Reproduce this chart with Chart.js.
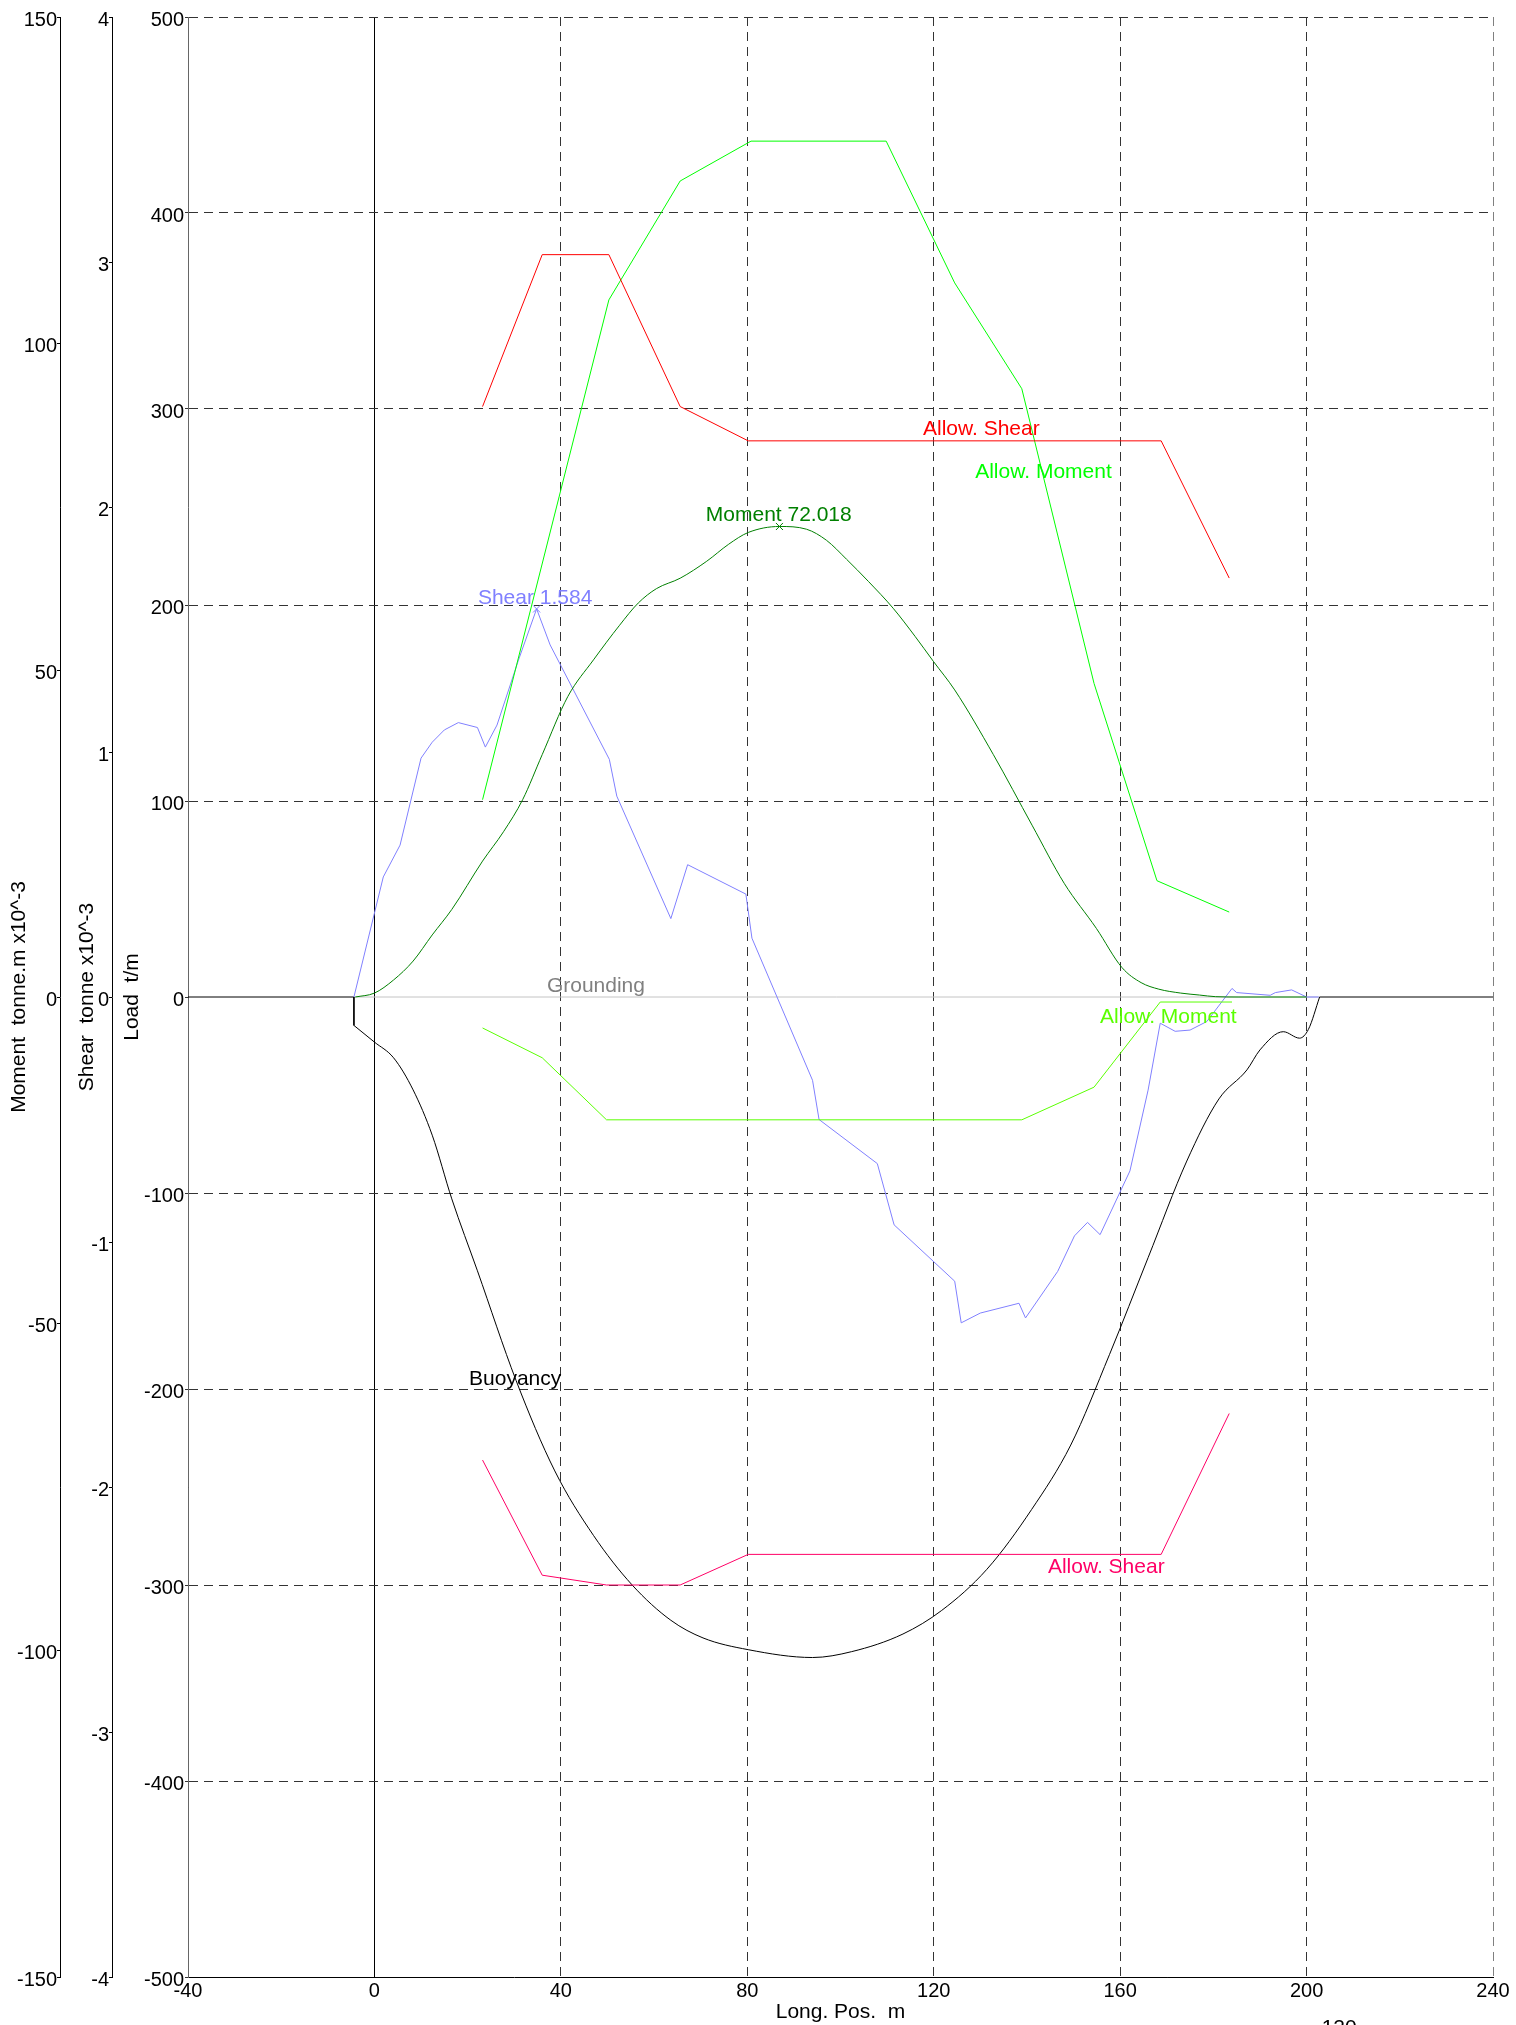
<!DOCTYPE html>
<html><head><meta charset="utf-8">
<script src="https://cdn.jsdelivr.net/npm/chart.js@4.4.1/dist/chart.umd.min.js"></script>
<style>html,body{margin:0;padding:0;background:#fff;}canvas{display:block;}</style>
</head><body>
<canvas id="c" width="1516" height="2025" style="width:1516px;height:2025px"></canvas>
<script>
// ---------- data ----------
// Long. position (m)
const xTickValues = [-40, 0, 40, 80, 120, 160, 200, 240];

// Shear (tonne x10^-3)
const shearPos = [-4.4, 1.9, 5.5, 10, 12.4, 15, 18, 22.1, 23.8, 26.3, 30.9, 34.8, 37.7, 50.4, 52, 63.6, 67.2, 79.7, 81, 94, 95.4, 107.9, 111.5, 124.5, 125.9, 130, 138.3, 139.7, 146.6, 150.2, 153, 155.7, 162.1, 166, 168.6, 171.8, 175, 178.6, 184, 185, 192.2, 193.3, 196.8, 200, 202.6];
const shearVal = [0, 0.49, 0.62, 0.975, 1.04, 1.09, 1.12, 1.10, 1.02, 1.11, 1.375, 1.584, 1.437, 0.97, 0.82, 0.32, 0.54, 0.42, 0.24, -0.34, -0.50, -0.68, -0.93, -1.16, -1.33, -1.29, -1.25, -1.31, -1.12, -0.975, -0.92, -0.97, -0.71, -0.38, -0.107, -0.14, -0.135, -0.10, 0.035, 0.018, 0.007, 0.018, 0.029, 0, 0];

// Moment (tonne.m x10^-3)
const momentPos = [-4.1, 0, 4.1, 8.3, 12.4, 16.6, 23.2, 27.7, 31.8, 36, 41.5, 47, 52.6, 56.6, 60.5, 65.6, 71.3, 76, 80.2, 86.9, 92.7, 97, 101.3, 106, 111.3, 116, 119.9, 124.5, 132.8, 141.1, 148, 154.9, 160.4, 164.5, 168.3, 173, 177, 180.5, 185.3, 200];
const momentVal = [0, 0.6, 2.6, 5.5, 9.5, 13.4, 20.8, 25.3, 30.2, 37.1, 46, 51.6, 56.9, 60.3, 62.5, 64.1, 66.7, 69.3, 71.1, 72.018, 71.6, 69.9, 67.0, 63.6, 59.5, 55.2, 51.4, 47, 37.1, 26.3, 17.4, 10.5, 4.5, 2.2, 1.2, 0.6, 0.3, 0.05, 0, 0];

// Buoyancy / load (t/m)
const loadPos = [-4.4, 0, 4.1, 8.3, 12.4, 16.6, 22.1, 30.4, 38.7, 47, 55.3, 63.6, 70.5, 80.2, 94, 102.4, 113.4, 121.7, 131.4, 141, 149.4, 157.7, 166, 174.3, 181.2, 187.2, 190, 195, 198.5, 200.4, 202.8];
const loadVal = [-14.5, -23, -31, -47.4, -70.5, -103, -139.7, -195.7, -241.8, -274.7, -300, -318, -327, -333, -337, -334, -325, -313, -292, -261.5, -228.6, -182.5, -133, -83.7, -52, -37.2, -27, -17.7, -21, -16.5, 0];
const loadTailLeftPos = [-40, -4.4, -4.4];
const loadTailLeftVal = [0, 0, -14.5];
const loadTailRightPos = [202.8, 240];
const loadTailRightVal = [0, 0];

// Grounding (t/m)
const groundPos = [-4.4, 202.8];
const groundVal = [0, 0];

// Allowable shear (tonne x10^-3)
const allowShearPos = [23.2, 36, 50.3, 65.6, 80.2, 168.8, 183.4];
const allowShearUpper = [2.41, 3.03, 3.03, 2.41, 2.27, 2.27, 1.71];
const allowShearLowerPos = [23.2, 36, 49.8, 65.6, 80.2, 168.8, 183.4];
const allowShearLower = [-1.89, -2.36, -2.40, -2.40, -2.275, -2.275, -1.70];

// Allowable moment (tonne.m x10^-3)
const allowMomentPos = [23.2, 50.3, 65.6, 80.8, 109.8, 124.5, 138.9, 154.4, 167.9, 183.4];
const allowMomentUpper = [30.2, 106.7, 124.9, 131, 131, 109.3, 93.1, 48, 17.8, 13];
const allowMomentLowerPos = [23.2, 36, 49.8, 138.9, 154.4, 168.6, 184];
const allowMomentLower = [-4.74, -9.3, -18.8, -18.8, -13.8, -0.77, -0.77];

// Peak markers
const shearPeak = {x: 34.8, y: 1.584};
const momentPeak = {x: 86.9, y: 72.018};

// Annotation texts
const labelTexts = ['Allow. Shear', 'Allow. Moment', 'Moment 72.018', 'Shear 1.584', 'Grounding', 'Allow. Moment', 'Buoyancy', 'Allow. Shear'];
const labelColors = ['#ff0000', '#00ff00', '#008000', '#8080ff', '#808080', '#5aff00', '#000000', '#ff0066'];
// anchor (Long. pos, load t/m) of each label's left baseline
const labelAtX = [117.7, 128.9, 71.1, 22.2, 37, 155.7, 20.3, 144.5];
const labelAtY = [286.7, 264.8, 242.9, 200.5, 2.7, -13.1, -198, -294];

// ---------- chart ----------
const FONT = '"Liberation Sans", Arial, Helvetica, sans-serif';
const pts = (xs, ys) => xs.map((x, i) => ({x, y: ys[i]}));

const labelPlugin = {
  id: 'labels',
  afterDatasetsDraw(chart) {
    const c = chart.ctx, xs = chart.scales.x, ys = chart.scales.yLoad;
    c.save();
    c.font = '21px ' + FONT;
    c.textAlign = 'left';
    c.textBaseline = 'alphabetic';
    labelTexts.forEach((t, i) => {
      c.fillStyle = labelColors[i];
      c.fillText(t, xs.getPixelForValue(labelAtX[i]), ys.getPixelForValue(labelAtY[i]));
    });
    // stray tick label partly outside the picture
    c.fillStyle = '#000';
    c.textAlign = 'center';
    c.textBaseline = 'top';
    c.fillText('120', xs.getPixelForValue(207), chart.height - 7);
    c.restore();
  }
};

const line = (label, xs, ys, color, axis, smooth) => ({
  label, data: pts(xs, ys), yAxisID: axis, borderColor: color, backgroundColor: color,
  borderWidth: 1, pointRadius: 0, tension: 0, fill: false, showLine: true,
  cubicInterpolationMode: smooth ? 'monotone' : 'default'
});

new Chart(document.getElementById('c').getContext('2d'), {
  type: 'line',
  data: {
    datasets: [
      line('Allow. Shear', allowShearPos, allowShearUpper, '#ff0000', 'yShear'),
      line('Allow. Shear -', allowShearLowerPos, allowShearLower, '#ff0066', 'yShear'),
      line('Allow. Moment', allowMomentPos, allowMomentUpper, '#00ff00', 'yMoment'),
      line('Allow. Moment -', allowMomentLowerPos, allowMomentLower, '#5aff00', 'yMoment'),
      line('Moment', momentPos, momentVal, '#008000', 'yMoment', true),
      line('Shear', shearPos, shearVal, '#8080ff', 'yShear'),
      line('Buoyancy', loadPos, loadVal, '#000000', 'yLoad', true),
      line('Buoyancy L', loadTailLeftPos, loadTailLeftVal, '#000000', 'yLoad'),
      line('Buoyancy R', loadTailRightPos, loadTailRightVal, '#000000', 'yLoad'),
      line('Grounding', groundPos, groundVal, '#c4c4c4', 'yLoad'),
      {label: 'Shear peak', data: [shearPeak], yAxisID: 'yShear', showLine: false, pointStyle: 'crossRot', pointRadius: 5, borderColor: '#8080ff', borderWidth: 1},
      {label: 'Moment peak', data: [momentPeak], yAxisID: 'yMoment', showLine: false, pointStyle: 'crossRot', pointRadius: 5, borderColor: '#008000', borderWidth: 1}
    ]
  },
  options: {
    responsive: false, animation: false, devicePixelRatio: 1,
    layout: {padding: {left: 0, right: 23, top: 17, bottom: 0}},
    plugins: {legend: {display: false}, tooltip: {enabled: false}},
    scales: {
      x: {
        type: 'linear', position: 'bottom', min: -40, max: 240,
        afterBuildTicks: s => { s.ticks = xTickValues.map(v => ({value: v})); },
        ticks: {font: {family: FONT, size: 20}, color: '#000', padding: 2, maxRotation: 0, autoSkip: false},
        grid: {drawTicks: false, lineWidth: 1,
          color: c => c.tick && c.tick.value === 0 ? '#000' : (c.tick && c.tick.value === 240 ? '#808080' : '#333')},
        border: {display: true, color: '#000', width: 1, dash: c => c.tick && c.tick.value === 0 ? [] : [9, 6]},
        title: {display: true, text: 'Long. Pos.  m', color: '#000', font: {family: FONT, size: 21}, padding: {top: 0, bottom: 0}},
        afterFit: s => { s.height = 48; }
      },
      yMoment: {
        type: 'linear', position: 'left', weight: 3, min: -150, max: 150,
        ticks: {stepSize: 50, font: {family: FONT, size: 20}, color: '#000', padding: 0, labelOffset: 3},
        grid: {drawOnChartArea: false, drawTicks: true, tickLength: 3, color: '#000'},
        border: {display: true, color: '#000', width: 1},
        title: {display: true, text: 'Moment  tonne.m x10^-3', color: '#000', font: {family: FONT, size: 21}, padding: {top: 7, bottom: 0}},
        afterFit: s => { s.width = 60; }
      },
      yShear: {
        type: 'linear', position: 'left', weight: 2, min: -4, max: 4,
        ticks: {stepSize: 1, font: {family: FONT, size: 20}, color: '#000', padding: 0, labelOffset: 3},
        grid: {drawOnChartArea: false, drawTicks: true, tickLength: 3, color: '#000'},
        border: {display: true, color: '#000', width: 1},
        title: {display: true, text: 'Shear  tonne x10^-3', color: '#000', font: {family: FONT, size: 21}, padding: {top: 15, bottom: 0}},
        afterFit: s => { s.width = 52; }
      },
      yLoad: {
        type: 'linear', position: 'left', weight: 1, min: -500, max: 500,
        ticks: {stepSize: 100, font: {family: FONT, size: 20}, color: '#000', padding: 1, labelOffset: 3},
        grid: {drawTicks: true, tickLength: 3, lineWidth: 1,
          color: c => c.tick && c.tick.value === 0 ? 'rgba(0,0,0,0)' : '#333',
          tickColor: '#333'},
        border: {display: true, color: '#666', width: 1, dash: [9, 6]},
        title: {display: true, text: 'Load  t/m', color: '#000', font: {family: FONT, size: 21}, padding: {top: 8, bottom: 0}},
        afterFit: s => { s.width = 76; }
      }
    }
  },
  plugins: [labelPlugin]
});
</script>
</body></html>
